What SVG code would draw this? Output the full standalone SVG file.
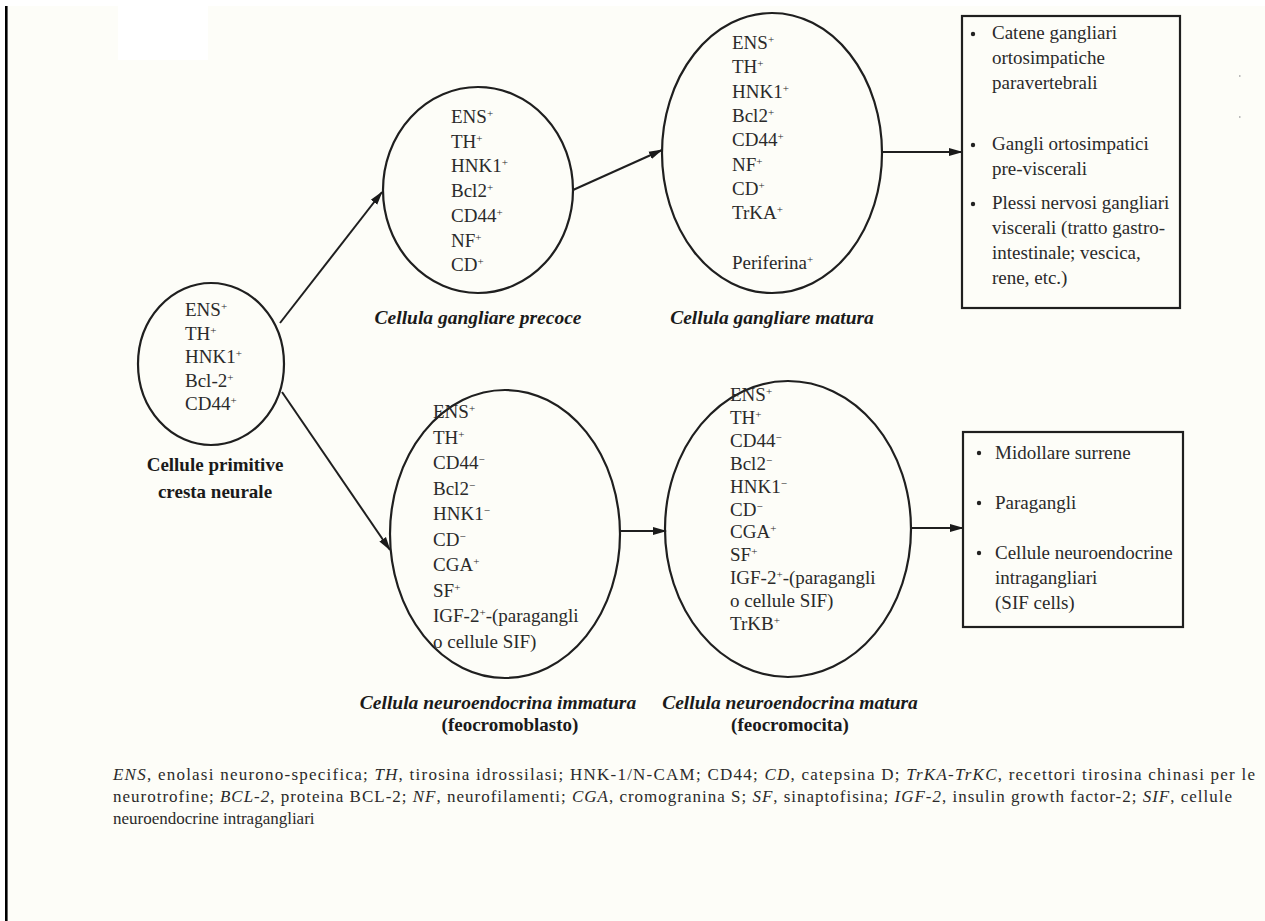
<svg xmlns="http://www.w3.org/2000/svg" width="1265" height="921" viewBox="0 0 1265 921">
<defs>
<marker id="ah" markerWidth="14" markerHeight="10" refX="13" refY="5" orient="auto" markerUnits="userSpaceOnUse">
<path d="M0,1 L14,5 L0,9 Z" fill="#1a1a1a"/>
</marker>
<style>
.n{fill:none;stroke:#1f1f1f;stroke-width:2.2}
.t{font-family:"Liberation Serif","Times New Roman",serif;font-size:19px;fill:#2a2a2a}
.lb{font-family:"Liberation Serif","Times New Roman",serif;font-size:19px;font-weight:bold;fill:#1a1a1a}
.li{font-family:"Liberation Serif","Times New Roman",serif;font-size:19.5px;font-weight:bold;font-style:italic;fill:#1a1a1a}
.f{font-family:"Liberation Serif","Times New Roman",serif;font-size:17px;fill:#2a2a2a}
.c{stroke:#1f1f1f;stroke-width:2;fill:none}
.s{font-size:11px;baseline-shift:super}
</style>
</defs>
<rect width="1265" height="921" fill="#ffffff"/>
<rect x="8" y="6" width="1257" height="915" fill="#fdfdf8"/>
<rect x="118" y="6" width="90" height="54" fill="#ffffff"/>
<rect x="5" y="6" width="2.6" height="915" fill="#000"/>
<rect x="1239" y="75" width="1.5" height="2" fill="#bbb"/>
<rect x="1239" y="116" width="1.5" height="2" fill="#bbb"/>

<g id="connectors">
<line class="c" x1="280" y1="323" x2="382" y2="192" marker-end="url(#ah)"/>
<line class="c" x1="282" y1="392" x2="390" y2="550" marker-end="url(#ah)"/>
<line class="c" x1="573" y1="190" x2="662" y2="150" marker-end="url(#ah)"/>
<line class="c" x1="882" y1="152" x2="962" y2="152" marker-end="url(#ah)"/>
<line class="c" x1="620" y1="531" x2="666" y2="531" marker-end="url(#ah)"/>
<line class="c" x1="912" y1="528" x2="963" y2="528" marker-end="url(#ah)"/>
</g>

<g id="node-primitive">
<ellipse class="n" cx="211" cy="364" rx="73" ry="81"/>
<text class="t" x="185" y="316">ENS<tspan class="s">+</tspan></text>
<text class="t" x="185" y="339.5">TH<tspan class="s">+</tspan></text>
<text class="t" x="185" y="363">HNK1<tspan class="s">+</tspan></text>
<text class="t" x="185" y="386.5">Bcl-2<tspan class="s">+</tspan></text>
<text class="t" x="185" y="410">CD44<tspan class="s">+</tspan></text>
<text class="lb" x="215" y="471" text-anchor="middle">Cellule primitive</text>
<text class="lb" x="215" y="498" text-anchor="middle">cresta neurale</text>
</g>

<g id="node-gangliare-precoce">
<ellipse class="n" cx="478" cy="190" rx="95" ry="103"/>
<text class="t" x="451" y="123">ENS<tspan class="s">+</tspan></text>
<text class="t" x="451" y="147.7">TH<tspan class="s">+</tspan></text>
<text class="t" x="451" y="172.4">HNK1<tspan class="s">+</tspan></text>
<text class="t" x="451" y="197.1">Bcl2<tspan class="s">+</tspan></text>
<text class="t" x="451" y="221.8">CD44<tspan class="s">+</tspan></text>
<text class="t" x="451" y="246.5">NF<tspan class="s">+</tspan></text>
<text class="t" x="451" y="271.2">CD<tspan class="s">+</tspan></text>
<text class="li" x="478" y="324" text-anchor="middle">Cellula gangliare precoce</text>
</g>

<g id="node-gangliare-matura">
<ellipse class="n" cx="772" cy="153" rx="110" ry="140"/>
<text class="t" x="732" y="49">ENS<tspan class="s">+</tspan></text>
<text class="t" x="732" y="73.3">TH<tspan class="s">+</tspan></text>
<text class="t" x="732" y="97.6">HNK1<tspan class="s">+</tspan></text>
<text class="t" x="732" y="121.9">Bcl2<tspan class="s">+</tspan></text>
<text class="t" x="732" y="146.2">CD44<tspan class="s">+</tspan></text>
<text class="t" x="732" y="170.5">NF<tspan class="s">+</tspan></text>
<text class="t" x="732" y="194.8">CD<tspan class="s">+</tspan></text>
<text class="t" x="732" y="219.1">TrKA<tspan class="s">+</tspan></text>
<text class="t" x="732" y="269">Periferina<tspan class="s">+</tspan></text>
<text class="li" x="772" y="324" text-anchor="middle">Cellula gangliare matura</text>
</g>

<g id="box-gangli">
<rect class="n" x="962" y="16" width="218" height="292"/>
<circle cx="973" cy="34" r="2.2" fill="#222"/>
<text class="t" x="992" y="39">Catene gangliari</text>
<text class="t" x="992" y="64">ortosimpatiche</text>
<text class="t" x="992" y="89">paravertebrali</text>
<circle cx="973" cy="145" r="2.2" fill="#222"/>
<text class="t" x="992" y="150">Gangli ortosimpatici</text>
<text class="t" x="992" y="175">pre-viscerali</text>
<circle cx="973" cy="204" r="2.2" fill="#222"/>
<text class="t" x="992" y="209">Plessi nervosi gangliari</text>
<text class="t" x="992" y="234">viscerali (tratto gastro-</text>
<text class="t" x="992" y="259">intestinale; vescica,</text>
<text class="t" x="992" y="284">rene, etc.)</text>
</g>

<g id="node-neuroendocrina-immatura">
<ellipse class="n" cx="505" cy="534" rx="115" ry="144"/>
<text class="t" x="433" y="418">ENS<tspan class="s">+</tspan></text>
<text class="t" x="433" y="443.5">TH<tspan class="s">+</tspan></text>
<text class="t" x="433" y="469">CD44<tspan class="s">−</tspan></text>
<text class="t" x="433" y="494.5">Bcl2<tspan class="s">−</tspan></text>
<text class="t" x="433" y="520">HNK1<tspan class="s">−</tspan></text>
<text class="t" x="433" y="545.5">CD<tspan class="s">−</tspan></text>
<text class="t" x="433" y="571">CGA<tspan class="s">+</tspan></text>
<text class="t" x="433" y="596.5">SF<tspan class="s">+</tspan></text>
<text class="t" x="433" y="622">IGF-2<tspan class="s">+</tspan>-(paragangli</text>
<text class="t" x="433" y="647.5">o cellule SIF)</text>
<text class="li" x="498" y="709" text-anchor="middle">Cellula neuroendocrina immatura</text>
<text class="lb" x="510" y="731" text-anchor="middle">(feocromoblasto)</text>
</g>

<g id="node-neuroendocrina-matura">
<ellipse class="n" cx="788" cy="529" rx="123" ry="148"/>
<text class="t" x="730" y="401">ENS<tspan class="s">+</tspan></text>
<text class="t" x="730" y="423.9">TH<tspan class="s">+</tspan></text>
<text class="t" x="730" y="446.8">CD44<tspan class="s">−</tspan></text>
<text class="t" x="730" y="469.7">Bcl2<tspan class="s">−</tspan></text>
<text class="t" x="730" y="492.6">HNK1<tspan class="s">−</tspan></text>
<text class="t" x="730" y="515.5">CD<tspan class="s">−</tspan></text>
<text class="t" x="730" y="538.4">CGA<tspan class="s">+</tspan></text>
<text class="t" x="730" y="561.3">SF<tspan class="s">+</tspan></text>
<text class="t" x="730" y="584.2">IGF-2<tspan class="s">+</tspan>-(paragangli</text>
<text class="t" x="730" y="607.1">o cellule SIF)</text>
<text class="t" x="730" y="630">TrKB<tspan class="s">+</tspan></text>
<text class="li" x="790" y="709" text-anchor="middle">Cellula neuroendocrina matura</text>
<text class="lb" x="790" y="731" text-anchor="middle">(feocromocita)</text>
</g>

<g id="box-neuroendocrine">
<rect class="n" x="963" y="432" width="220" height="195"/>
<circle cx="979" cy="453" r="2.2" fill="#222"/>
<text class="t" x="995" y="459">Midollare surrene</text>
<circle cx="979" cy="503" r="2.2" fill="#222"/>
<text class="t" x="995" y="509">Paragangli</text>
<circle cx="979" cy="553" r="2.2" fill="#222"/>
<text class="t" x="995" y="559">Cellule neuroendocrine</text>
<text class="t" x="995" y="584">intragangliari</text>
<text class="t" x="995" y="609">(SIF cells)</text>
</g>

<g id="legend">
<text class="f" x="113" y="780" textLength="1142" lengthAdjust="spacing"><tspan font-style="italic">ENS</tspan>, enolasi neurono-specifica; <tspan font-style="italic">TH</tspan>, tirosina idrossilasi; HNK-1/N-CAM; CD44; <tspan font-style="italic">CD</tspan>, catepsina D; <tspan font-style="italic">TrKA-TrKC</tspan>, recettori tirosina chinasi per le</text>
<text class="f" x="113" y="802" textLength="1119" lengthAdjust="spacing">neurotrofine; <tspan font-style="italic">BCL-2</tspan>, proteina BCL-2; <tspan font-style="italic">NF</tspan>, neurofilamenti; <tspan font-style="italic">CGA</tspan>, cromogranina S; <tspan font-style="italic">SF</tspan>, sinaptofisina; <tspan font-style="italic">IGF-2</tspan>, insulin growth factor-2; <tspan font-style="italic">SIF</tspan>, cellule</text>
<text class="f" x="113" y="824">neuroendocrine intragangliari</text>
</g>
</svg>
